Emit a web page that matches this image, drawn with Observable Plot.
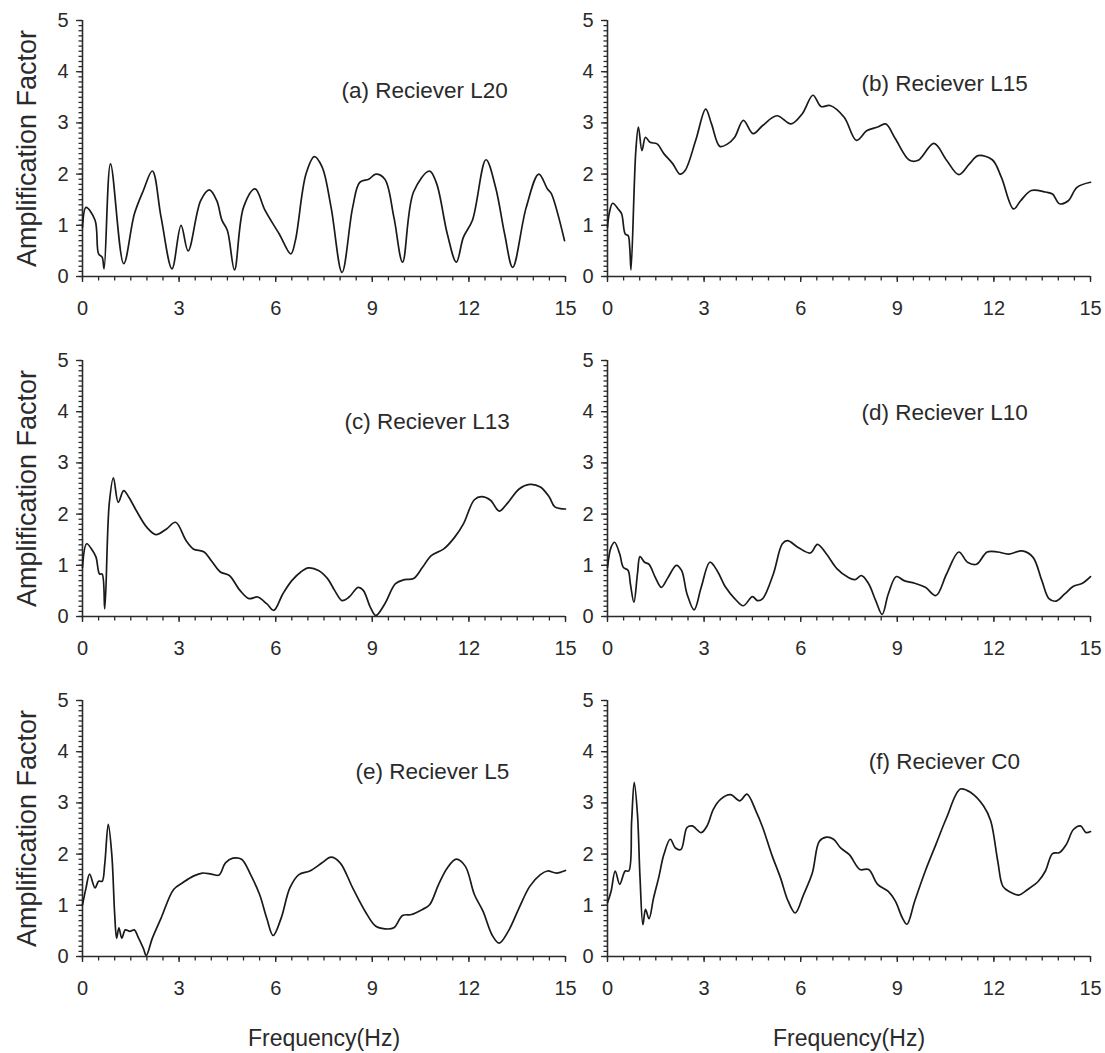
<!DOCTYPE html>
<html>
<head>
<meta charset="utf-8">
<script src="https://cdn.jsdelivr.net/npm/d3@7"></script>
<script src="https://cdn.jsdelivr.net/npm/@observablehq/plot@0.6"></script>
<style>
  html, body { margin: 0; padding: 0; background: #ffffff; }
  #chart { position: relative; width: 1105px; height: 1053px; overflow: hidden; background: #ffffff; }
  #chart svg { position: absolute; overflow: visible; }
</style>
</head>
<body>
<div id="chart"></div>
<script>
// ---- Data ----
const titles = ["(a) Reciever L20", "(b) Reciever L15", "(c) Reciever L13", "(d) Reciever L10", "(e) Reciever L5", "(f) Reciever C0"];
const xTicks = [0, 3, 6, 9, 12, 15];
const yTicks = [0, 1, 2, 3, 4, 5];
const yLabel = "Amplification Factor";
const xLabel = "Frequency(Hz)";

const freqA = [0, 0.11, 0.39, 0.5, 0.61, 0.67, 0.87, 1.28, 1.61, 1.89, 2.17, 2.44, 2.78, 3.06, 3.28, 3.67, 3.94, 4.17, 4.33, 4.5, 4.72, 5.0, 5.36, 5.67, 6.11, 6.47, 6.61, 6.94, 7.2, 7.44, 7.72, 8.06, 8.39, 8.61, 8.89, 9.11, 9.39, 9.67, 9.94, 10.28, 10.78, 11.0, 11.33, 11.61, 11.83, 12.11, 12.53, 12.83, 13.11, 13.36, 13.78, 14.17, 14.44, 14.56, 14.97];
const ampA  = [0.96, 1.35, 1.1, 0.44, 0.38, 0.15, 2.2, 0.25, 1.22, 1.68, 2.06, 1.16, 0.15, 1.0, 0.5, 1.48, 1.69, 1.48, 1.1, 0.9, 0.13, 1.35, 1.71, 1.29, 0.83, 0.44, 0.7, 2.0, 2.34, 2.14, 1.35, 0.08, 1.35, 1.84, 1.9, 2.0, 1.9, 1.16, 0.28, 1.65, 2.06, 1.81, 0.83, 0.28, 0.77, 1.1, 2.28, 1.74, 0.83, 0.18, 1.35, 2.0, 1.71, 1.62, 0.7];

const freqB = [0, 0.05, 0.16, 0.33, 0.44, 0.55, 0.64, 0.69, 0.73, 0.88, 0.96, 1.07, 1.18, 1.32, 1.54, 1.75, 2.03, 2.25, 2.41, 2.74, 3.05, 3.23, 3.49, 3.73, 3.95, 4.22, 4.52, 4.82, 5.26, 5.7, 6.05, 6.38, 6.63, 6.91, 7.35, 7.73, 8.06, 8.39, 8.64, 8.94, 9.38, 9.65, 10.14, 10.53, 10.91, 11.24, 11.51, 11.95, 12.23, 12.61, 12.83, 13.16, 13.6, 13.82, 14.04, 14.31, 14.58, 15];
const ampB  = [0.96, 1.22, 1.43, 1.32, 1.22, 0.83, 0.8, 0.57, 0.13, 2.46, 2.92, 2.46, 2.72, 2.62, 2.59, 2.4, 2.2, 2.0, 2.07, 2.66, 3.27, 2.98, 2.54, 2.59, 2.72, 3.05, 2.79, 2.95, 3.14, 2.98, 3.18, 3.54, 3.32, 3.34, 3.11, 2.66, 2.85, 2.92, 2.98, 2.69, 2.27, 2.27, 2.6, 2.27, 1.99, 2.2, 2.36, 2.28, 1.94, 1.32, 1.48, 1.68, 1.65, 1.61, 1.42, 1.48, 1.74, 1.84];

const freqC = [0, 0.13, 0.31, 0.42, 0.53, 0.61, 0.69, 0.83, 0.96, 1.11, 1.28, 1.44, 1.67, 2.0, 2.28, 2.61, 2.89, 3.22, 3.44, 3.78, 4.0, 4.28, 4.56, 4.89, 5.17, 5.44, 5.72, 5.94, 6.22, 6.5, 6.78, 7.02, 7.33, 7.61, 7.83, 8.06, 8.28, 8.56, 8.72, 8.94, 9.11, 9.39, 9.72, 10.0, 10.28, 10.56, 10.83, 11.22, 11.56, 11.83, 12.17, 12.39, 12.67, 12.94, 13.22, 13.56, 13.89, 14.22, 14.5, 14.67, 15];
const ampC  = [0.96, 1.42, 1.29, 1.16, 0.83, 0.83, 0.15, 2.2, 2.71, 2.23, 2.46, 2.33, 2.07, 1.74, 1.6, 1.71, 1.84, 1.48, 1.32, 1.26, 1.09, 0.87, 0.8, 0.51, 0.35, 0.38, 0.25, 0.12, 0.44, 0.7, 0.87, 0.95, 0.9, 0.74, 0.51, 0.31, 0.38, 0.57, 0.51, 0.18, 0.02, 0.25, 0.64, 0.72, 0.74, 0.96, 1.19, 1.32, 1.55, 1.81, 2.28, 2.34, 2.27, 2.06, 2.23, 2.49, 2.58, 2.53, 2.33, 2.14, 2.1];

const freqD = [0, 0.11, 0.22, 0.38, 0.49, 0.64, 0.71, 0.82, 0.93, 1.01, 1.15, 1.29, 1.48, 1.67, 1.86, 2.14, 2.3, 2.47, 2.69, 2.91, 3.18, 3.4, 3.67, 3.95, 4.22, 4.5, 4.66, 4.82, 5.15, 5.43, 5.59, 5.92, 6.3, 6.52, 6.8, 7.13, 7.46, 7.68, 7.89, 8.11, 8.33, 8.53, 8.72, 8.97, 9.21, 9.54, 9.87, 10.2, 10.53, 10.91, 11.18, 11.46, 11.79, 12.12, 12.45, 12.88, 13.21, 13.49, 13.71, 13.93, 14.2, 14.47, 14.75, 15];
const ampD  = [0.96, 1.35, 1.45, 1.22, 0.96, 0.9, 0.64, 0.28, 0.83, 1.17, 1.06, 1.02, 0.77, 0.57, 0.74, 1.0, 0.9, 0.44, 0.13, 0.57, 1.06, 0.9, 0.57, 0.35, 0.21, 0.39, 0.31, 0.35, 0.83, 1.42, 1.48, 1.35, 1.24, 1.41, 1.22, 0.93, 0.77, 0.72, 0.8, 0.64, 0.31, 0.04, 0.44, 0.78, 0.7, 0.65, 0.57, 0.41, 0.83, 1.26, 1.06, 1.02, 1.26, 1.26, 1.22, 1.28, 1.16, 0.7, 0.35, 0.3, 0.44, 0.59, 0.65, 0.78];

const freqE = [0, 0.11, 0.22, 0.39, 0.5, 0.61, 0.69, 0.8, 0.91, 1.0, 1.06, 1.13, 1.22, 1.33, 1.47, 1.61, 1.72, 1.89, 1.98, 2.17, 2.44, 2.83, 3.11, 3.44, 3.72, 4.0, 4.24, 4.44, 4.67, 4.94, 5.22, 5.5, 5.72, 5.92, 6.17, 6.44, 6.72, 7.06, 7.44, 7.72, 8.0, 8.39, 8.78, 9.11, 9.39, 9.67, 9.94, 10.22, 10.56, 10.78, 11.06, 11.33, 11.61, 11.89, 12.17, 12.44, 12.72, 12.94, 13.22, 13.56, 13.89, 14.22, 14.44, 14.72, 15];
const ampE  = [1.01, 1.34, 1.61, 1.34, 1.47, 1.47, 1.8, 2.58, 1.99, 0.82, 0.36, 0.56, 0.36, 0.52, 0.49, 0.52, 0.39, 0.16, 0.02, 0.36, 0.75, 1.31, 1.44, 1.57, 1.63, 1.61, 1.59, 1.83, 1.92, 1.9, 1.6, 1.21, 0.75, 0.41, 0.75, 1.34, 1.6, 1.67, 1.83, 1.94, 1.83, 1.34, 0.88, 0.59, 0.54, 0.56, 0.8, 0.82, 0.92, 1.01, 1.41, 1.73, 1.9, 1.76, 1.21, 0.88, 0.42, 0.26, 0.49, 0.95, 1.37, 1.6, 1.67, 1.63, 1.68];

const freqF = [0, 0.11, 0.24, 0.38, 0.55, 0.66, 0.75, 0.83, 0.93, 1.01, 1.1, 1.18, 1.29, 1.43, 1.59, 1.75, 1.95, 2.11, 2.28, 2.47, 2.63, 2.91, 3.09, 3.29, 3.51, 3.82, 4.11, 4.33, 4.61, 4.82, 5.1, 5.37, 5.61, 5.83, 6.09, 6.36, 6.58, 6.8, 7.02, 7.24, 7.51, 7.84, 8.11, 8.39, 8.72, 8.94, 9.16, 9.3, 9.54, 9.87, 10.2, 10.53, 10.96, 11.29, 11.68, 11.9, 12.12, 12.28, 12.5, 12.77, 13.05, 13.38, 13.6, 13.82, 14.04, 14.25, 14.47, 14.69, 14.86, 15];
const ampF  = [1.05, 1.27, 1.67, 1.41, 1.67, 1.67, 2.65, 3.4, 2.78, 1.54, 0.62, 0.92, 0.74, 1.14, 1.54, 1.99, 2.29, 2.12, 2.09, 2.52, 2.55, 2.42, 2.55, 2.88, 3.07, 3.16, 3.04, 3.17, 2.84, 2.52, 1.99, 1.54, 1.08, 0.85, 1.21, 1.63, 2.25, 2.33, 2.29, 2.12, 1.99, 1.7, 1.7, 1.41, 1.27, 1.08, 0.75, 0.63, 1.08, 1.67, 2.19, 2.71, 3.27, 3.2, 2.94, 2.65, 1.86, 1.37, 1.26, 1.2, 1.31, 1.47, 1.67, 2.01, 2.03, 2.19, 2.48, 2.55, 2.42, 2.44];

const series = [[freqA, ampA], [freqB, ampB], [freqC, ampC], [freqD, ampD], [freqE, ampE], [freqF, ampF]];

// ---- Layout (positions & styles) ----
const font = "'Liberation Sans', Arial, Helvetica, sans-serif";
const ink = "#2a2a2a";
const panelLayout = [
  {left: 0,   top: 0,   h: 340, tx: 8.04, ty: 3.63, yLab: true,  xLab: false},
  {left: 525, top: 0,   h: 340, tx: 7.89, ty: 3.77, yLab: false, xLab: false},
  {left: 0,   top: 340, h: 340, tx: 8.14, ty: 3.8,  yLab: true,  xLab: false},
  {left: 525, top: 340, h: 340, tx: 7.89, ty: 3.97, yLab: false, xLab: false},
  {left: 0,   top: 680, h: 373, tx: 8.48, ty: 3.61, yLab: true,  xLab: true},
  {left: 525, top: 680, h: 373, tx: 8.11, ty: 3.8,  yLab: false, xLab: true}
];

const container = document.getElementById("chart");
const minorY = d3.range(0, 51).map(d => d / 10);
const minorX = d3.range(0, 31).map(d => d / 2);
const intFmt = d3.format("d");

panelLayout.forEach((p, i) => {
  const [fr, am] = series[i];
  const data = fr.map((f, k) => ({f, a: am[k]}));
  const svg = Plot.plot({
    width: 580,
    height: p.h,
    marginLeft: 82,
    marginRight: 15,
    marginTop: 20,
    marginBottom: p.h - 276,
    x: {domain: [0, 15]},
    y: {domain: [0, 5]},
    style: {fontFamily: font, background: "transparent", overflow: "visible", color: ink},
    marks: [
      Plot.axisY(minorY, {tickSize: 3.5, tickFormat: () => "", label: null, stroke: ink, strokeWidth: 1.3}),
      Plot.axisY(yTicks, {tickSize: 6, tickPadding: 8, tickFormat: intFmt, label: null, fontSize: 20, fill: ink, stroke: ink, strokeWidth: 1.3}),
      Plot.axisX(minorX, {tickSize: 4.5, tickFormat: () => "", label: null, stroke: ink, strokeWidth: 1.3}),
      Plot.axisX(xTicks, {tickSize: 6, tickPadding: 18, tickFormat: intFmt, label: null, fontSize: 20, fill: ink, stroke: ink, strokeWidth: 1.3}),
      Plot.ruleX([0], {stroke: ink, strokeWidth: 1.6}),
      Plot.ruleY([0], {stroke: ink, strokeWidth: 1.6}),
      Plot.line(data, {x: "f", y: "a", curve: "catmull-rom", stroke: "#1a1a1a", strokeWidth: 1.7}),
      Plot.text([titles[i]], {x: () => p.tx, y: () => p.ty, text: d => d, textAnchor: "start", lineAnchor: "middle", fontSize: 22.5, fill: ink}),
      p.yLab ? Plot.text([yLabel], {frameAnchor: "left", dx: -55, rotate: -90, textAnchor: "middle", lineAnchor: "middle", fontSize: 27, fill: ink}) : null,
      p.xLab ? Plot.text([xLabel], {frameAnchor: "bottom", dy: 82, textAnchor: "middle", lineAnchor: "middle", fontSize: 23, fill: ink}) : null
    ]
  });
  svg.style.position = "absolute";
  svg.style.left = p.left + "px";
  svg.style.top = p.top + "px";
  svg.style.maxWidth = "none";
  container.appendChild(svg);
});
</script>
</body>
</html>
